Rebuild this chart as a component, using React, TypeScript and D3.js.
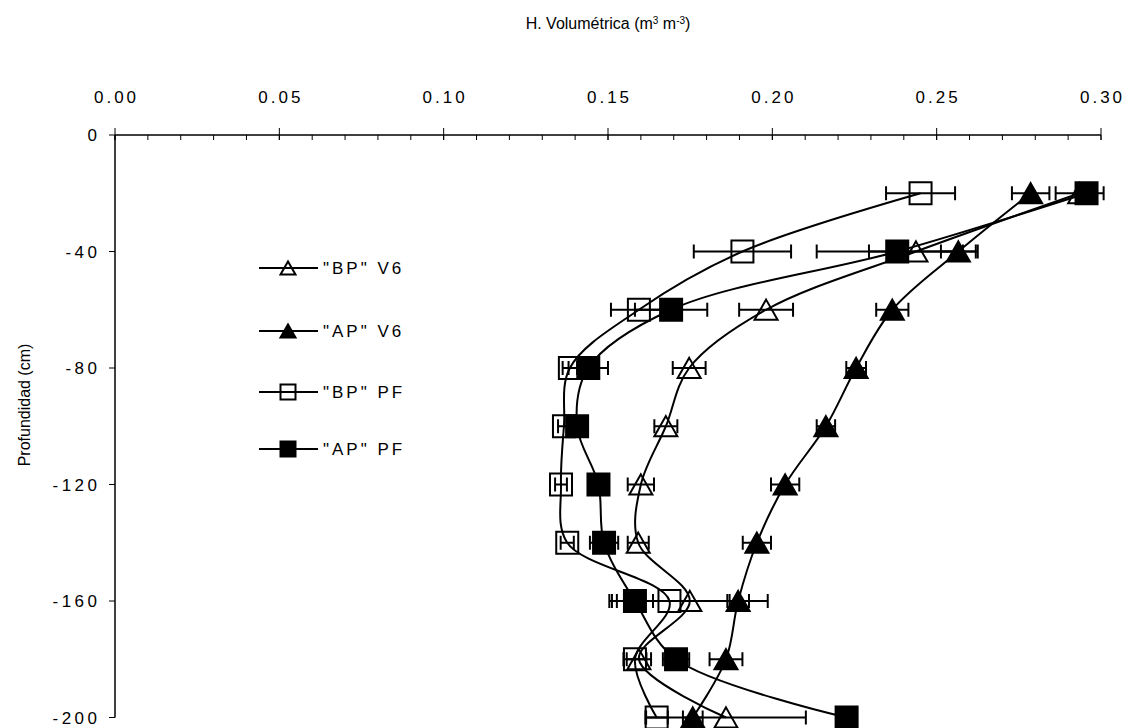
import React from "react";
import * as d3 from "d3";

const depths = [-20, -40, -60, -80, -100, -120, -140, -160, -180, -200];

const bpV6 = [0.2935, 0.2437, 0.1981, 0.1747, 0.1676, 0.16, 0.1592, 0.1749, 0.1594, 0.1859];
const bpV6Err = [0.0073, 0.0143, 0.0082, 0.005, 0.0035, 0.004, 0.0032, 0.0237, 0.0037, 0.0243];

const apV6 = [0.2786, 0.2566, 0.2365, 0.2255, 0.2163, 0.2039, 0.1953, 0.1896, 0.1859, 0.1758];
const apV6Err = [0.0057, 0.0053, 0.0049, 0.003, 0.0028, 0.0043, 0.0043, 0.0033, 0.005, 0.003];

const bpPF = [0.2451, 0.1909, 0.1594, 0.1384, 0.1366, 0.1357, 0.1376, 0.1687, 0.1582, 0.1648];
const bpPFErr = [0.0105, 0.0148, 0.0085, 0.0022, 0.0018, 0.0018, 0.002, 0.0183, 0.0035, 0.0034];

const apPF = [0.2956, 0.238, 0.1692, 0.144, 0.1406, 0.1471, 0.1488, 0.1582, 0.1707, 0.2226];
const apPFErr = [0.0025, 0.0245, 0.011, 0.006, 0.0025, 0.0025, 0.0043, 0.0055, 0.004, 0.002];

const xTicks = [0, 0.05, 0.1, 0.15, 0.2, 0.25, 0.3];
const xMinorTicks = d3.range(0, 31).map((i) => i / 100);
const yTicks = [0, -40, -80, -120, -160, -200];

const seriesNames = ['"BP" V6', '"AP" V6', '"BP" PF', '"AP" PF'];

type Shape = "tri" | "sq";
const series = [
  { name: seriesNames[0], values: bpV6, errs: bpV6Err, shape: "tri" as Shape, filled: false },
  { name: seriesNames[1], values: apV6, errs: apV6Err, shape: "tri" as Shape, filled: true },
  { name: seriesNames[2], values: bpPF, errs: bpPFErr, shape: "sq" as Shape, filled: false },
  { name: seriesNames[3], values: apPF, errs: apPFErr, shape: "sq" as Shape, filled: true },
];

const W = 1126;
const H = 728;

function Marker({ shape, filled, x, y, size }: { shape: Shape; filled: boolean; x: number; y: number; size: number }) {
  const fill = filled ? "#000" : "none";
  if (shape === "sq") {
    return (
      <rect x={x - size / 2} y={y - size / 2} width={size} height={size} fill={fill} stroke="#000" strokeWidth={2} />
    );
  }
  const h = size * 0.88;
  const p = `${x},${y - h / 2} ${x + size / 2},${y + h / 2} ${x - size / 2},${y + h / 2}`;
  return <polygon points={p} fill={fill} stroke="#000" strokeWidth={2} strokeLinejoin="miter" />;
}

export default function App() {
  const x = d3.scaleLinear().domain([0, 0.3]).range([115, 1101]);
  const y = d3.scaleLinear().domain([0, -200]).range([135, 717.5]);

  const line = d3
    .line<number>()
    .x((v) => x(v))
    .y((_, i) => y(depths[i]))
    .curve(d3.curveCatmullRom);

  const tickFont = "'Liberation Sans', Arial, sans-serif";
  const narrowFont = "'Liberation Sans Narrow', 'Liberation Sans', Arial, sans-serif";

  const legendY = [268, 331, 392, 449];
  const ls = 3;
  const yls = 3.5;

  return (
    <svg width={W} height={H} style={{ position: "absolute", left: 0, top: 0, background: "#fff" }}>
      <rect width={W} height={H} fill="#fff" />
      {/* Axis titles */}
      <text x={(x(0) + x(0.3)) / 2} y={29} textAnchor="middle" fontFamily={narrowFont} fontSize={16} fill="#000">
        H. Volumétrica (m<tspan baselineShift="super" fontSize={10}>3</tspan> m<tspan baselineShift="super" fontSize={10}>-3</tspan>)
      </text>
      <text
        transform={`translate(30,${405}) rotate(-90)`}
        textAnchor="middle"
        fontFamily={narrowFont}
        fontSize={16}
        fill="#000"
      >
        Profundidad (cm)
      </text>

      {/* X axis (top) */}
      <line x1={x(0)} x2={x(0.3)} y1={y(0)} y2={y(0)} stroke="#000" strokeWidth={1.5} />
      {xMinorTicks.map((t, i) => (
        <line key={"mn" + i} x1={x(t)} x2={x(t)} y1={y(0)} y2={y(0) + 5} stroke="#000" strokeWidth={1} />
      ))}
      {xTicks.map((t, i) => (
        <g key={"xt" + i}>
          <line x1={x(t)} x2={x(t)} y1={y(0) - 7} y2={y(0) + 5} stroke="#000" strokeWidth={1} />
          <text x={x(t) + ls / 2} y={y(0) - 32} textAnchor="middle" fontFamily={tickFont} fontSize={17} letterSpacing={ls} fill="#000">
            {t.toFixed(2)}
          </text>
        </g>
      ))}

      {/* Y axis */}
      <line x1={x(0)} x2={x(0)} y1={y(0)} y2={y(-200)} stroke="#000" strokeWidth={1.5} />
      {yTicks.map((t, i) => (
        <g key={"yt" + i}>
          <line x1={x(0) - 6} x2={x(0)} y1={y(t)} y2={y(t)} stroke="#000" strokeWidth={1} />
          <text x={97 + yls} y={y(t) + 6} textAnchor="end" fontFamily={tickFont} fontSize={17} letterSpacing={yls} fill="#000">
            {t}
          </text>
        </g>
      ))}

      {/* Lines */}
      {series.map((s, i) => (
        <path key={"l" + i} d={line(s.values) || ""} fill="none" stroke="#000" strokeWidth={2} />
      ))}

      {/* Markers */}
      {series.map((s, si) =>
        s.values.map((v, i) => (
          <Marker key={`m${si}-${i}`} shape={s.shape} filled={s.filled} x={x(v)} y={y(depths[i])} size={s.shape === "sq" ? 22 : 23} />
        ))
      )}

      {/* Error bars */}
      {series.map((s, si) =>
        s.values.map((v, i) => {
          const yy = y(depths[i]);
          const x1 = x(v - s.errs[i]);
          const x2 = x(v + s.errs[i]);
          return (
            <g key={`e${si}-${i}`} stroke="#000" strokeWidth={2}>
              <line x1={x1} x2={x2} y1={yy} y2={yy} />
              <line x1={x1} x2={x1} y1={yy - 7} y2={yy + 7} />
              <line x1={x2} x2={x2} y1={yy - 7} y2={yy + 7} />
            </g>
          );
        })
      )}

      {/* Legend */}
      {series.map((s, i) => (
        <g key={"lg" + i}>
          <line x1={259} x2={318} y1={legendY[i]} y2={legendY[i]} stroke="#000" strokeWidth={2} />
          <Marker shape={s.shape} filled={s.filled} x={288} y={legendY[i]} size={15} />
          <text x={323} y={legendY[i] + 6} fontFamily={tickFont} fontSize={17} letterSpacing={ls} fill="#000">
            {s.name}
          </text>
        </g>
      ))}
    </svg>
  );
}
